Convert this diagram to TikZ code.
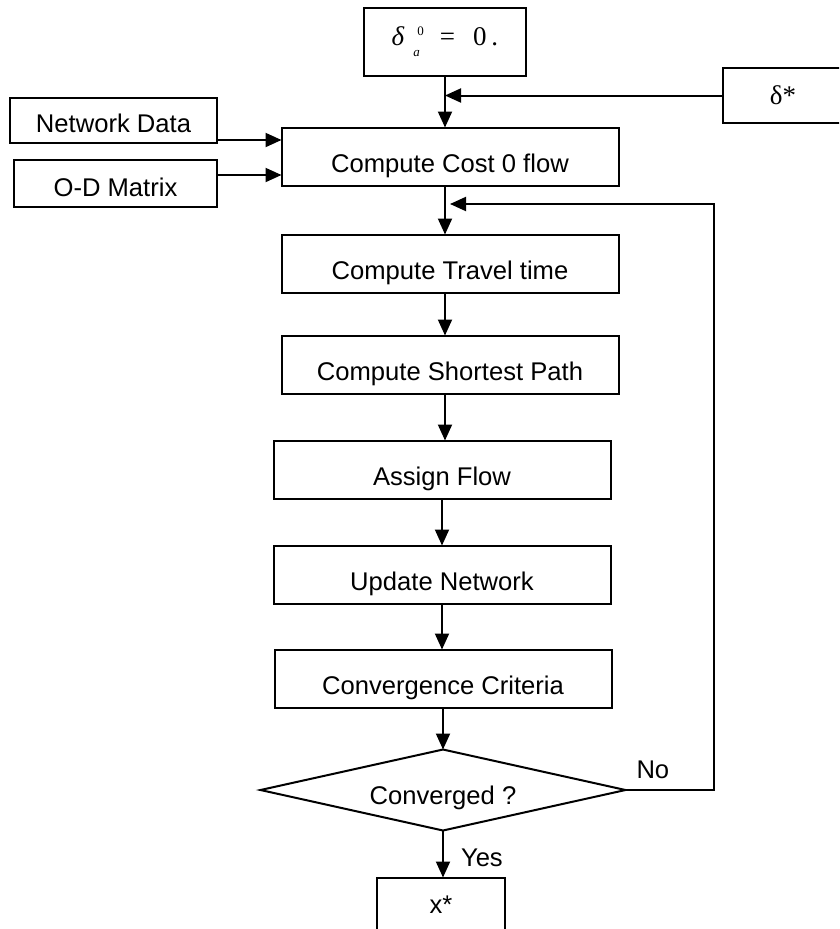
\documentclass[tikz,border=0pt]{standalone}
\usepackage[no-math]{fontspec}
\setmainfont{Liberation Sans}
\newfontfamily\serifgr{Liberation Serif}
\usetikzlibrary{positioning,shapes.geometric,arrows.meta}

\tikzset{
  >={Triangle[length=16pt,width=14pt]},
  procbox/.style={draw, minimum width=337pt, minimum height=58pt,
    text height=31pt, text depth=0pt, inner sep=0pt},
  inbox/.style={draw, minimum height=45pt,
    text height=25pt, text depth=0pt, inner sep=0pt},
  decision/.style={draw, diamond, aspect=4.5, minimum width=365pt,
    minimum height=81pt, text height=29pt, text depth=0pt, inner sep=0pt},
}
\newcommand{\smallfig}{\fontsize{13}{13}\selectfont}

\begin{document}
\begin{tikzpicture}[x=1pt,y=-1pt,line width=2pt,font=\fontsize{25.6}{30}\selectfont,
    every node/.append style={outer sep=0pt}]
    \clip (0,0) rectangle (839,929);
    % main chain
    \node[draw, minimum width=162pt, minimum height=68pt] (delta) at (445,41.5)
        {\serifgr\fontsize{27}{30}\selectfont {\itshape δ}\hspace{9pt}%
         \rlap{\hspace{4pt}\raisebox{10pt}{\smallfig 0}}%
         \raisebox{-11pt}{\smallfig\itshape a}\hspace{20pt}=\hspace{18pt}0\hspace{5pt}.};
    \node[procbox] (cost) [below=52pt of delta, xshift=5pt] {Compute Cost 0 flow};
    \node[procbox] (travel) [below=49pt of cost] {Compute Travel time};
    \node[procbox] (path) [below=43pt of travel] {Compute Shortest Path};
    \node[procbox] (assign) [below=47pt of path, xshift=-8pt] {Assign Flow};
    \node[procbox] (update) [below=47pt of assign] {Update Network};
    \node[procbox] (criteria) [below=46pt of update, xshift=1pt] {Convergence Criteria};
    \node[decision] (conv) [below=42pt of criteria] {Converged ?};
    \node[draw, minimum width=128pt, minimum height=55pt] (xstar) [below=47pt of conv, xshift=-2pt] {x*};
    % inputs
    \node[inbox, minimum width=207pt] (netdata) at (113.5,120) {Network Data};
    \node[inbox, minimum width=203pt, minimum height=47pt] (odmat) at (115.5,183.5) {O-D Matrix};
    \node[draw, minimum width=120pt, minimum height=55pt] (dstar) at (783,95.5)
        {\serifgr\fontsize{27}{30}\selectfont δ*};
    \coordinate (loop) at (714,204);

    \draw[->] (delta.south) -- (delta.south |- cost.north);
    \draw[->] (dstar.west) -- (dstar.west -| delta.south);
    \draw[->] ([yshift=-20pt]netdata.east) -- ([yshift=-20pt]netdata.east -| cost.west);
    \draw[->] ([yshift=8.5pt]odmat.east) -- ([yshift=8.5pt]odmat.east -| cost.west);
    \draw[->] (cost.south -| delta.south) -- (travel.north -| delta.south);
    \draw[->] (travel.south -| delta.south) -- (path.north -| delta.south);
    \draw[->] (path.south -| delta.south) -- (assign.north -| delta.south);
    \draw[->] (assign) -- (update);
    \draw[->] (update.south) -- (update.south |- criteria.north);
    \draw[->] (criteria.south) -- (criteria.south |- conv.north);
    \draw[->] (conv.south)
        -- node[right, inner sep=3pt, xshift=15pt, yshift=-3.5pt] {Yes} (conv.south |- xstar.north);
    % loop back
    \draw[->] (conv.east) -| (loop) -- (loop -| cost.south);
    \node[anchor=south west, inner sep=0pt, xshift=11pt, yshift=11pt] (no) at (conv.east) {No};
\end{tikzpicture}
\end{document}
